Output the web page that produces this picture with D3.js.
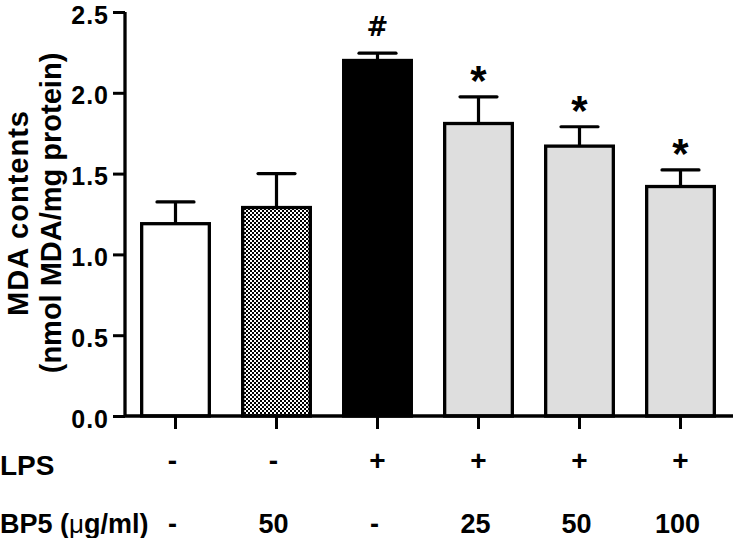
<!DOCTYPE html>
<html>
<head>
<meta charset="utf-8">
<script src="https://cdn.jsdelivr.net/npm/d3@7"></script>
<style>
  html, body { margin: 0; padding: 0; background: #fff; }
  svg { display: block; font-family: Arial, "Liberation Sans", sans-serif; }
</style>
</head>
<body>
<svg id="chart" width="734" height="538"></svg>
<script>
// ---- data ----
const groups = ["Control", "BP5 50", "LPS", "LPS+BP5 25", "LPS+BP5 50", "LPS+BP5 100"];
const means  = [1.19, 1.29, 2.20, 1.81, 1.67, 1.42];
const sems   = [0.135, 0.21, 0.045, 0.165, 0.12, 0.103];
const signif = ["", "", "#", "*", "*", "*"];
const fills  = ["white", "checker", "black", "gray", "gray", "gray"];
const lpsRow = ["-", "-", "+", "+", "+", "+"];
const bp5Row = ["-", "50", "-", "25", "50", "100"];
const yTicks = [0, 0.5, 1.0, 1.5, 2.0, 2.5];
const yLabel1 = "MDA contents";
const yLabel2 = "(nmol MDA/mg protein)";

// ---- layout ----
const svg = d3.select("#chart");
const x0 = 125, x1 = 731, yBase = 416, yTop = 12;

const x = d3.scaleBand().domain(groups).range([x0, x1]).paddingInner(0.33).paddingOuter(0.165);
const y = d3.scaleLinear().domain([0, 2.5]).range([yBase, yTop]);

const defs = svg.append("defs");
const pat = defs.append("pattern").attr("id", "checker").attr("patternUnits", "userSpaceOnUse")
  .attr("width", 4).attr("height", 4);
pat.append("rect").attr("width", 4).attr("height", 4).attr("fill", "#fff");
pat.append("rect").attr("x", 0).attr("y", 0).attr("width", 2).attr("height", 2).attr("fill", "#000");
pat.append("rect").attr("x", 2).attr("y", 2).attr("width", 2).attr("height", 2).attr("fill", "#000");

const fillOf = f => f === "checker" ? "url(#checker)" : f === "gray" ? "#dedede" : f;

const data = groups.map((g, i) => ({ g, m: means[i], s: sems[i], sig: signif[i], f: fills[i] }));

// error bars (upper only)
const capW = 37;
const eb = svg.append("g").attr("stroke", "#000").attr("stroke-width", 3.2);
eb.selectAll("line.v").data(data).join("line")
  .attr("x1", d => x(d.g) + x.bandwidth() / 2).attr("x2", d => x(d.g) + x.bandwidth() / 2)
  .attr("y1", d => y(d.m)).attr("y2", d => y(d.m + d.s));
eb.selectAll("line.c").data(data).join("line")
  .attr("x1", d => x(d.g) + x.bandwidth() / 2 - capW / 2).attr("x2", d => x(d.g) + x.bandwidth() / 2 + capW / 2)
  .attr("y1", d => y(d.m + d.s)).attr("y2", d => y(d.m + d.s))
  .attr("stroke-linecap", "round");

// bars
svg.append("g").selectAll("rect").data(data).join("rect")
  .attr("x", d => x(d.g)).attr("width", x.bandwidth())
  .attr("y", d => y(d.m)).attr("height", d => y(0) - y(d.m))
  .attr("fill", d => fillOf(d.f)).attr("stroke", "#000").attr("stroke-width", 3.3);

// significance marks
const starFs = 42, hashFs = 26;
svg.append("g").selectAll("text").data(data.filter(d => d.sig)).join("text")
  .attr("x", d => x(d.g) + x.bandwidth() / 2)
  .attr("y", d => d.sig === "*" ? y(d.m + d.s) - 26 + 0.58 * starFs : y(d.m + d.s) - 27 + 0.36 * hashFs)
  .attr("text-anchor", "middle").attr("font-weight", "bold")
  .attr("font-family", d => d.sig === "*" ? "'Liberation Sans', Arial, sans-serif" : "'DejaVu Sans', sans-serif")
  .attr("font-size", d => d.sig === "*" ? starFs : hashFs)
  .text(d => d.sig);

// y axis
const yAxis = d3.axisLeft(y).tickValues(yTicks).tickFormat(d3.format(".1f")).tickSize(12).tickPadding(4);
const gy = svg.append("g").attr("transform", `translate(${x0},0)`).call(yAxis);
gy.select(".domain").attr("stroke-width", 3.3).attr("d", `M0,${yTop}V${yBase}`);
gy.selectAll(".tick line").attr("stroke-width", 3);
gy.selectAll(".tick text").attr("font-size", 25).attr("font-weight", "bold").attr("letter-spacing", 1)
  .attr("dy", "0.44em")
  .attr("font-family", "Arial, 'Liberation Sans', sans-serif").attr("fill", "#000");

// x axis
const xAxis = d3.axisBottom(x).tickSize(13).tickFormat("");
const gx = svg.append("g").attr("transform", `translate(0,${yBase})`).call(xAxis);
gx.select(".domain").attr("stroke-width", 3.3).attr("d", `M${x0 - 1},0H733`);
gx.selectAll(".tick line").attr("stroke-width", 3);

// y label
const ly = 213;
svg.append("text").attr("transform", `translate(28,${ly}) rotate(-90)`)
  .attr("text-anchor", "middle").attr("font-size", 29).attr("font-weight", "bold")
  .attr("letter-spacing", 1).text(yLabel1);
svg.append("text").attr("transform", `translate(61,${ly}) rotate(-90)`)
  .attr("text-anchor", "middle").attr("font-size", 29).attr("font-weight", "bold")
  .text(yLabel2);

// bottom rows
const rowFont = 27;
svg.append("text").attr("x", 0).attr("y", 475).attr("font-size", 28).attr("font-weight", "bold").text("LPS");
const bp = svg.append("text").attr("x", 0).attr("y", 533).attr("font-size", rowFont).attr("font-weight", "bold");
bp.append("tspan").text("BP5 (");
bp.append("tspan").attr("font-weight", "normal").attr("font-size", 26).text("\u03bc");
bp.append("tspan").text("g/ml)");

svg.append("g").selectAll("text").data(groups).join("text")
  .attr("x", (g, i) => x(g) + x.bandwidth() / 2 - (lpsRow[i] === "-" ? 3 : 0))
  .attr("y", 470).attr("text-anchor", "middle").attr("font-size", 28).attr("font-weight", "bold")
  .text((g, i) => lpsRow[i]);
svg.append("g").selectAll("text").data(groups).join("text")
  .attr("x", (g, i) => x(g) + x.bandwidth() / 2 - 3)
  .attr("y", 533).attr("text-anchor", "middle").attr("font-size", rowFont).attr("font-weight", "bold")
  .text((g, i) => bp5Row[i]);
</script>
</body>
</html>
